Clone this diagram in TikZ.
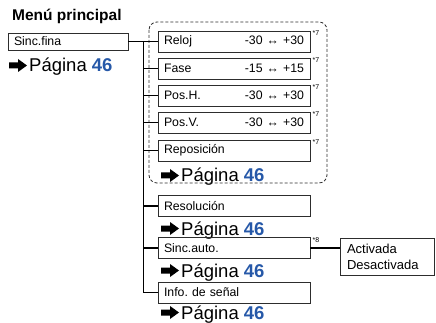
\documentclass[tikz,border=0pt]{standalone}
\usepackage{fontspec}
\setmainfont{Liberation Sans}
\frenchspacing
\definecolor{pblue}{RGB}{38,88,168}
\definecolor{bline}{RGB}{45,45,45}
\tikzset{
  mbox/.style={draw=bline, line width=0.9pt, minimum width=152pt, minimum height=21pt,
    text width=140pt, inner xsep=6pt, inner ysep=0pt, align=left,
    font=\fontsize{12.3}{14}\selectfont},
  conn/.style={draw=black, line width=1.1pt},
  pag/.style={inner sep=0pt, anchor=base west, font=\fontsize{18.5}{20}\selectfont},
  note/.style={inner sep=0pt, anchor=north west, font=\fontsize{7}{8}\selectfont},
  parrow/.pic={\fill (0,-3) -- (9,-3) -- (9,-6.5) -- (18,0) -- (9,6.5) -- (9,3) -- (0,3) -- cycle;}
}
\begin{document}
\begin{tikzpicture}[x=1pt,y=-1pt]
\useasboundingbox (0,0) rectangle (436,323);

\node[inner sep=0pt, anchor=base west, font=\fontsize{15.5}{17}\bfseries] (title) at (12,21) {Menú principal};

\node[mbox, minimum width=120pt, minimum height=17pt, text width=108pt] (sf) at (68,41.5) {Sinc.fina};
\node[pag] (p0) at (29,72) {Página \textcolor{pblue}{\textbf{46}}};

\node[mbox] (rl) at (234,41.5) {Reloj\hfill -30 ↔ +30};
\node[mbox] (fa) at (234,68.5) {Fase\hfill -15 ↔ +15};
\node[mbox] (ph) at (234,95.5) {Pos.H.\hfill -30 ↔ +30};
\node[mbox] (pv) at (234,122.5) {Pos.V.\hfill -30 ↔ +30};
\node[mbox] (rp) at (234,150.5) {Reposición};
\node[pag] (p1) at (181,182) {Página \textcolor{pblue}{\textbf{46}}};

\node[mbox] (rs) at (234,206) {Resolución};
\node[pag] (p2) at (181,235) {Página \textcolor{pblue}{\textbf{46}}};
\node[mbox] (sa) at (234,248) {Sinc.auto.};
\node[pag] (p3) at (181,277) {Página \textcolor{pblue}{\textbf{46}}};
\node[mbox] (inf) at (234,292.5) {Info. de señal};
\node[pag] (p4) at (181,319) {Página \textcolor{pblue}{\textbf{46}}};

\node[mbox, minimum width=94pt, minimum height=37pt, text width=80pt, inner xsep=7pt,
      font=\fontsize{13}{16}\selectfont] (act) at (387,256.5) {Activada\\Desactivada};

\foreach \n in {rl,fa,ph,pv,rp} {
  \node[note] (n\n) at ([xshift=2pt]\n.north east) {*7};
}
\node[note] (nsa) at ([xshift=2pt]sa.north east) {*8};

\foreach \p in {p0,p1,p2,p3,p4} {
  \pic at ([xshift=-20pt,yshift=6.5pt]\p.base west) {parrow};
}

\draw[draw=bline, line width=0.8pt, dash pattern=on 3pt off 2pt, rounded corners=8pt]
  (149,22) rectangle (327,183);

\coordinate (tt) at ([xshift=15pt]sf.east);
\draw[conn] (sf.east) -- (rl.west);
\draw[conn] (tt) |- (inf.west);
\foreach \n in {fa,ph,pv,rp,rs,sa} {
  \draw[conn] (tt |- \n.west) -- (\n.west);
}
\draw[conn] (sa.east) -- (sa.east -| act.west);
\end{tikzpicture}
\end{document}
